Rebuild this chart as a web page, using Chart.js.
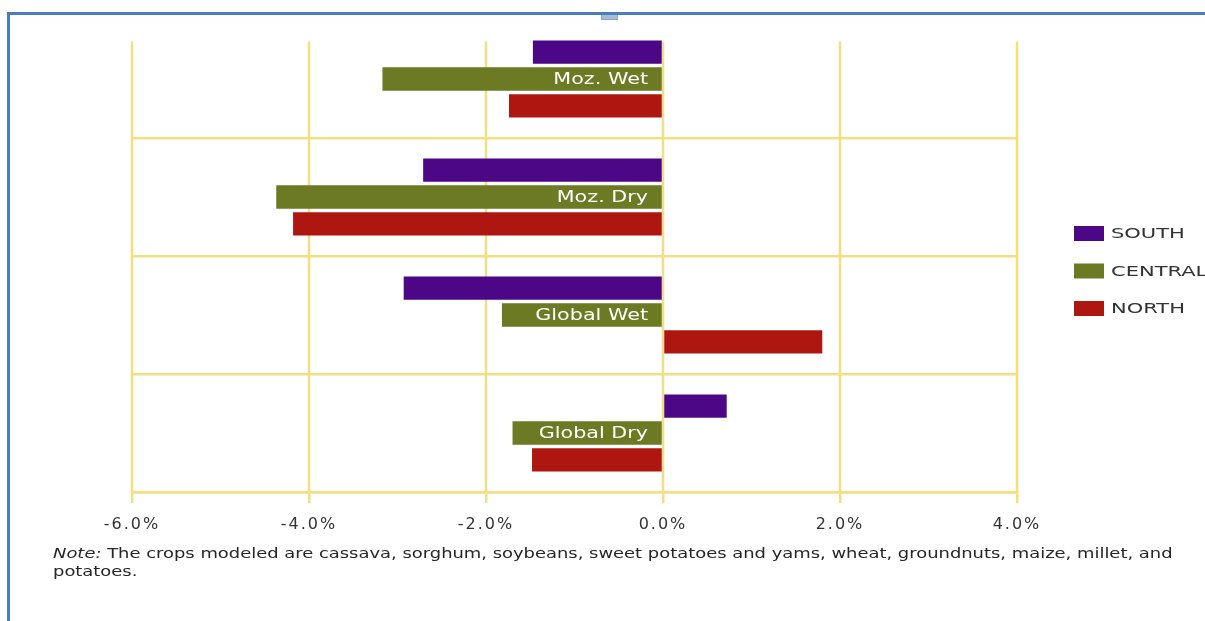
<!DOCTYPE html>
<html>
<head>
<meta charset="utf-8">
<script src="https://cdn.jsdelivr.net/npm/chart.js@4"></script>
<style>
html,body{margin:0;padding:0;background:#fff;width:1205px;height:621px;overflow:hidden;}
#frame{position:absolute;left:7px;top:12px;width:1210px;height:620px;border-top:3px solid #4a7ebb;border-left:3px solid #4a7ebb;}
#handle{position:absolute;left:601px;top:15px;width:15px;height:4px;background:#a8bcd6;border:1px solid #8aa5c8;border-top:none;}
#wrap{position:absolute;left:0;top:0;width:1205px;height:621px;}
#note{position:absolute;left:53px;top:544px;font-family:'DejaVu Sans',sans-serif;font-size:14px;line-height:18px;color:#262626;transform:scaleX(1.28);transform-origin:0 0;white-space:nowrap;}
</style>
</head>
<body>
<div id="frame"></div>
<div id="handle"></div>
<div id="wrap"><canvas id="c"></canvas></div>
<div id="note"><i>Note:</i> The crops modeled are cassava, sorghum, soybeans, sweet potatoes and yams, wheat, groundnuts, maize, millet, and<br>potatoes.</div>
<script>
const categories = ['Moz. Wet', 'Moz. Dry', 'Global Wet', 'Global Dry'];
const seriesNames = ['SOUTH', 'CENTRAL', 'NORTH'];
const southValues = [-1.47, -2.71, -2.93, 0.72];
const centralValues = [-3.17, -4.37, -1.82, -1.70];
const northValues = [-1.74, -4.18, 1.80, -1.48];
const xTickValues = [-6, -4, -2, 0, 2, 4];

const seriesColors = ['#4b0785', '#6b7a23', '#ae1710'];
const gridColor = '#f3df80';

const vGridPlugin = {
  id: 'vgrid',
  beforeDatasetsDraw(chart) {
    const {ctx, chartArea, scales: {x}} = chart;
    const first = chart.getDatasetMeta(0).data[0];
    const top = first.y - first.height / 2 + 1;
    ctx.save();
    ctx.strokeStyle = gridColor;
    ctx.lineWidth = 2.5;
    x.ticks.forEach(t => {
      const px = x.getPixelForValue(t.value);
      ctx.beginPath();
      ctx.moveTo(px, top);
      ctx.lineTo(px, chartArea.bottom);
      ctx.stroke();
    });
    ctx.restore();
  }
};

const spacingPlugin = {
  id: 'spacing',
  beforeDraw(chart) { chart.ctx.letterSpacing = '2px'; },
  beforeDatasetsDraw(chart) { chart.ctx.letterSpacing = '0px'; }
};

const labelPlugin = {
  id: 'barLabels',
  afterDatasetsDraw(chart) {
    const {ctx, scales: {x}} = chart;
    const meta = chart.getDatasetMeta(1);
    const x0 = x.getPixelForValue(0);
    ctx.save();
    ctx.letterSpacing = '0px';
    ctx.font = '15px "DejaVu Sans"';
    ctx.fillStyle = '#ffffff';
    ctx.textAlign = 'right';
    ctx.textBaseline = 'middle';
    meta.data.forEach((el, i) => {
      ctx.save();
      ctx.translate(x0 - 15, el.y + 1);
      ctx.scale(1.38, 1);
      ctx.fillText(categories[i], 0, 0);
      ctx.restore();
    });
    ctx.restore();
  }
};

const legendPlugin = {
  id: 'customLegend',
  afterDraw(chart) {
    const {ctx, chartArea} = chart;
    const lx = chartArea.right + 57;
    const ly = chartArea.top + 213.5;
    ctx.save();
    ctx.letterSpacing = '0px';
    ctx.font = '14px "DejaVu Sans"';
    ctx.textBaseline = 'middle';
    ctx.textAlign = 'left';
    chart.data.datasets.forEach((ds, i) => {
      const cy = ly + i * 37.5;
      ctx.fillStyle = ds.backgroundColor;
      ctx.fillRect(lx, cy - 7.5, 30, 15);
      ctx.save();
      ctx.translate(lx + 37, cy + 1);
      ctx.scale(1.5, 1);
      ctx.fillStyle = '#333333';
      ctx.fillText(ds.label, 0, 0);
      ctx.restore();
    });
    ctx.restore();
  }
};

new Chart(document.getElementById('c'), {
  type: 'bar',
  data: {
    labels: categories,
    datasets: [
      {label: seriesNames[0], data: southValues, backgroundColor: seriesColors[0]},
      {label: seriesNames[1], data: centralValues, backgroundColor: seriesColors[1]},
      {label: seriesNames[2], data: northValues, backgroundColor: seriesColors[2]}
    ]
  },
  options: {
    indexAxis: 'y',
    responsive: true,
    maintainAspectRatio: false,
    animation: false,
    datasets: {bar: {categoryPercentage: 0.681, barPercentage: 0.87}},
    layout: {padding: {left: 132, right: 188, top: 20, bottom: 89}},
    plugins: {legend: {display: false}, tooltip: {enabled: false}},
    scales: {
      x: {
        type: 'linear',
        min: -6,
        max: 4,
        afterBuildTicks: s => { s.ticks = xTickValues.map(v => ({value: v})); },
        afterFit: s => { s.height = 40; },
        ticks: {
          callback: v => Number(v).toFixed(1) + '%',
          font: {family: 'DejaVu Sans', size: 16},
          color: '#333333',
          padding: 12,
          maxRotation: 0
        },
        grid: {drawOnChartArea: false, color: gridColor, lineWidth: 2.5, tickLength: 11},
        border: {display: true, color: gridColor, width: 2.5}
      },
      y: {
        type: 'category',
        afterFit: s => { s.width = 0; },
        ticks: {display: false},
        grid: {
          offset: true,
          drawTicks: false,
          lineWidth: 2.5,
          color: c => c.index === 0 ? 'rgba(0,0,0,0)' : gridColor
        },
        border: {display: false}
      }
    }
  },
  plugins: [spacingPlugin, vGridPlugin, labelPlugin, legendPlugin]
});
</script>
</body>
</html>
